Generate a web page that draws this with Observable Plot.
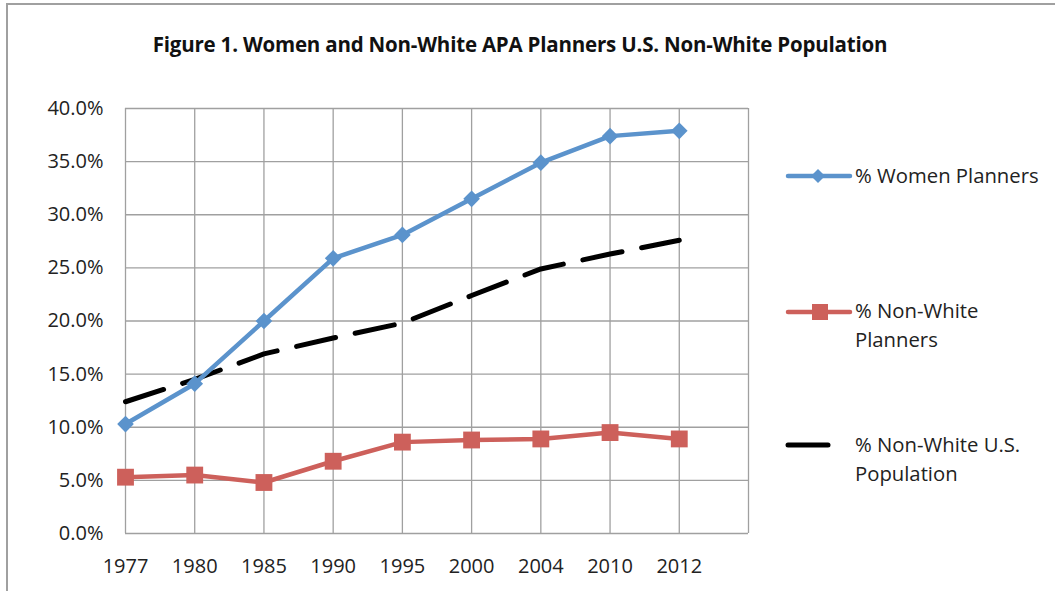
<!DOCTYPE html>
<html>
<head>
<meta charset="utf-8">
<script src="https://cdn.jsdelivr.net/npm/d3@7"></script>
<script src="https://cdn.jsdelivr.net/npm/@observablehq/plot@0.6"></script>
<style>
  html, body { margin: 0; padding: 0; background: #fff; }
  #wrap { position: relative; width: 1055px; height: 591px; overflow: hidden; font-family: "Open Sans", Lato, sans-serif; }
  #border { position: absolute; left: 6px; top: 3px; width: 1200px; height: 800px; border-left: 2px solid #a0a0a0; border-top: 2px solid #a0a0a0; }
  #title { position: absolute; left: 0; width: 1040px; top: 30px; text-align: center; font-weight: bold; font-size: 20.5px; color: #111; letter-spacing: -0.2px; }
  #chart { position: absolute; left: 0; top: 0; }
  .leg { position: absolute; font-size: 20.3px; color: #222; line-height: 29px; }
  .legsw { position: absolute; }
</style>
</head>
<body>
<div id="wrap">
  <div id="border"></div>
  <div id="chart"></div>
  <div id="title">Figure 1. Women and Non-White APA Planners U.S. Non-White Population</div>
  <svg class="legsw" style="left:785px;top:166px" width="70" height="20"><line x1="3" y1="10" x2="65" y2="10" stroke="#5b93cc" stroke-width="4.5" stroke-linecap="round"/><path d="M33,3 L40,10 L33,17 L26,10 Z" fill="#5b93cc"/></svg>
  <div class="leg" style="left:855px;top:161px">% Women Planners</div>
  <svg class="legsw" style="left:785px;top:300px" width="70" height="24"><line x1="3" y1="12" x2="65" y2="12" stroke="#cd605b" stroke-width="4.5" stroke-linecap="round"/><rect x="27" y="4" width="16" height="16" fill="#cd605b"/></svg>
  <div class="leg" style="left:855px;top:296px">% Non-White<br>Planners</div>
  <svg class="legsw" style="left:785px;top:435px" width="60" height="20"><line x1="3" y1="10" x2="43" y2="10" stroke="#000" stroke-width="5" stroke-linecap="round"/></svg>
  <div class="leg" style="left:855px;top:430px">% Non-White U.S.<br>Population</div>
</div>
<script>
const years = ["1977", "1980", "1985", "1990", "1995", "2000", "2004", "2010", "2012"];
const womenPlanners = [10.3, 14.1, 20.0, 25.9, 28.1, 31.5, 34.9, 37.4, 37.9];
const nonWhitePlanners = [5.3, 5.5, 4.8, 6.8, 8.6, 8.8, 8.9, 9.5, 8.9];
const nonWhitePopulation = [12.4, 14.5, 16.9, 18.4, 19.8, 22.4, 24.9, 26.3, 27.6];
const yTicks = [0, 5, 10, 15, 20, 25, 30, 35, 40];

const idx = years.map((_, i) => i);
const women = idx.map(i => ({i, v: womenPlanners[i]}));
const nwp = idx.map(i => ({i, v: nonWhitePlanners[i]}));
const pop = idx.map(i => ({i, v: nonWhitePopulation[i]}));
const gridX = [...idx, years.length];

const blue = "#5b93cc", red = "#cd605b";

const chart = Plot.plot({
  width: 1055,
  height: 591,
  marginLeft: 125,
  marginRight: 307,
  marginTop: 108,
  marginBottom: 58,
  style: { fontFamily: "'Open Sans', Lato, sans-serif", fontSize: "20px", color: "#222", background: "transparent" },
  x: { type: "linear", domain: [0, years.length], ticks: idx, tickFormat: i => years[i], tickSize: 0, tickPadding: 25, label: null },
  y: { domain: [0, 40], ticks: yTicks, tickFormat: d => d.toFixed(1) + "%", tickSize: 0, tickPadding: 22, label: null },
  marks: [
    Plot.gridY(yTicks, { stroke: "#a0a0a0", strokeOpacity: 1, strokeWidth: 1.3 }),
    Plot.gridX(gridX, { stroke: "#a0a0a0", strokeOpacity: 1, strokeWidth: 1.3 }),
    Plot.line(pop, { x: "i", y: "v", stroke: "#000", strokeWidth: 5, strokeDasharray: "40,20", strokeLinecap: "round" }),
    Plot.line(nwp, { x: "i", y: "v", stroke: red, strokeWidth: 4.5 }),
    Plot.dot(nwp, { x: "i", y: "v", symbol: "square", r: 9.5, fill: red, stroke: "none" }),
    Plot.line(women, { x: "i", y: "v", stroke: blue, strokeWidth: 4.5 }),
    Plot.dot(women, { x: "i", y: "v", symbol: "diamond2", r: 7.5, fill: blue, stroke: "none" })
  ]
});
document.getElementById("chart").appendChild(chart);
</script>
</body>
</html>
